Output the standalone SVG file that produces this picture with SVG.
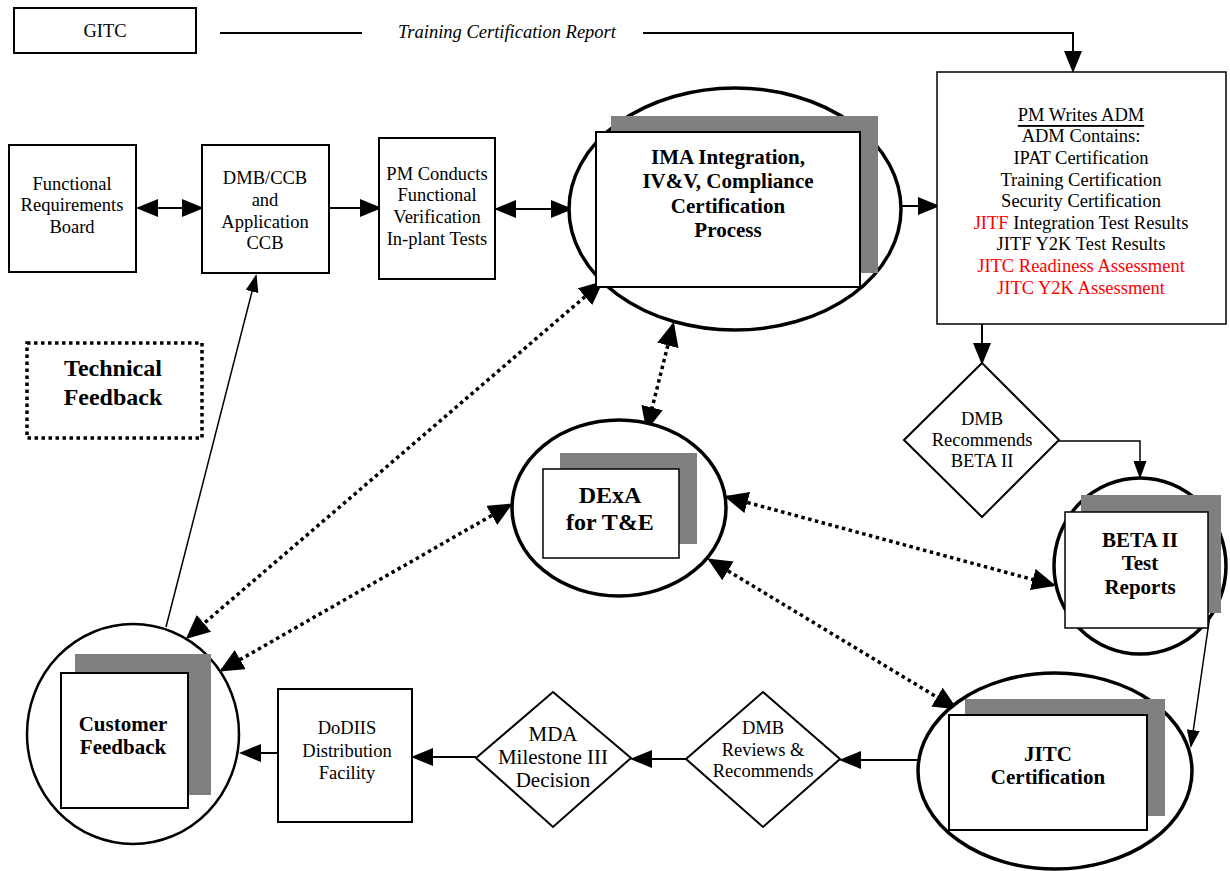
<svg xmlns="http://www.w3.org/2000/svg" width="1230" height="871" viewBox="0 0 1230 871">
<style>
text{font-family:"Liberation Serif","Times New Roman",serif;fill:#000;text-anchor:middle;dominant-baseline:central}
.t{font-size:18.5px}
.tm{font-size:21px}
.b{font-size:21px;font-weight:bold}
.bl{font-size:24px;font-weight:bold}
.red{fill:#ff0000}
.box{fill:#fff;stroke:#000;stroke-width:2}
.thin{fill:#fff;stroke:#000;stroke-width:1.5}
.shadow{fill:#808080;stroke:none}
.front{fill:#fff;stroke:#000;stroke-width:2}
.ell{fill:#fff;stroke:#000;stroke-width:3.5}
.conn{fill:none;stroke:#000;stroke-width:2}
.cthin{fill:none;stroke:#000;stroke-width:1.5}
.dot{fill:none;stroke:#000;stroke-width:3.5;stroke-dasharray:3.5 3.5}
</style>
<defs>
<marker id="ah" markerUnits="userSpaceOnUse" viewBox="0 0 22 18" markerWidth="22" markerHeight="18" refX="19" refY="9" orient="auto-start-reverse"><path d="M0,0 L22,9 L0,18 z" fill="#000"/></marker>
<marker id="ahd" markerUnits="userSpaceOnUse" viewBox="0 0 24 22" markerWidth="24" markerHeight="22" refX="21" refY="11" orient="auto-start-reverse"><path d="M0,0 L24,11 L0,22 z" fill="#000"/></marker>
<marker id="aht" markerUnits="userSpaceOnUse" viewBox="0 0 18 13" markerWidth="18" markerHeight="13" refX="16" refY="6.5" orient="auto-start-reverse"><path d="M0,0 L18,6.5 L0,13 z" fill="#000"/></marker>
</defs>
<rect width="1230" height="871" fill="#fff"/>

<g id="connectors">
<path class="conn" d="M220,33 H362 M643,33 H1073 V70" marker-end="url(#ah)"/>
<path class="conn" d="M139,208 L201,208" marker-start="url(#ah)" marker-end="url(#ah)"/>
<path class="conn" d="M329,208 L379,208" marker-end="url(#ah)"/>
<path class="conn" d="M497,209 L570,209" marker-start="url(#ah)" marker-end="url(#ah)"/>
<path class="conn" d="M901,206 L937,206" marker-end="url(#ah)"/>
<path class="conn" d="M982,324 V362" marker-end="url(#ah)"/>
<path class="cthin" d="M1059,441 H1140 V477" marker-end="url(#aht)"/>
<path class="cthin" d="M1210,615 L1191,746" marker-end="url(#aht)"/>
<path class="conn" d="M918,760 L842,760" marker-end="url(#ah)"/>
<path class="conn" d="M686,759 L633,759" marker-end="url(#ah)"/>
<path class="conn" d="M476,757 L414,757" marker-end="url(#ah)"/>
<path class="conn" d="M278,753 L242,753" marker-end="url(#ah)"/>
<path class="cthin" d="M166,627 L256,276" marker-end="url(#aht)"/>
<path class="dot" d="M601,283 L188,637" marker-start="url(#ahd)" marker-end="url(#ahd)"/>
<path class="dot" d="M510,505 L222,670" marker-start="url(#ahd)" marker-end="url(#ahd)"/>
<path class="dot" d="M673,325 L647,428" marker-start="url(#ahd)" marker-end="url(#ahd)"/>
<path class="dot" d="M727,497 L1053,585" marker-start="url(#ahd)" marker-end="url(#ahd)"/>
<path class="dot" d="M710,560 L955,708" marker-start="url(#ahd)" marker-end="url(#ahd)"/>
</g>

<g id="gitc">
<rect class="box" x="14" y="8" width="182" height="45"/>
<text class="t" x="105" y="31">GITC</text>
</g>
<g id="label-training">
<text class="t" x="507" y="32" font-style="italic">Training Certification Report</text>
</g>

<g id="functional-requirements-board">
<rect class="box" x="9" y="145" width="127" height="127"/>
<text class="t" x="72" y="184">Functional</text>
<text class="t" x="72" y="205">Requirements</text>
<text class="t" x="72" y="227">Board</text>
</g>

<g id="dmb-ccb">
<rect class="box" x="202" y="145" width="127" height="128"/>
<text class="t" x="265" y="178">DMB/CCB</text>
<text class="t" x="265" y="200">and</text>
<text class="t" x="265" y="222">Application</text>
<text class="t" x="265" y="243">CCB</text>
</g>

<g id="pm-conducts">
<rect class="box" x="379" y="138" width="116" height="141"/>
<text class="t" x="437" y="174">PM Conducts</text>
<text class="t" x="437" y="195">Functional</text>
<text class="t" x="437" y="217">Verification</text>
<text class="t" x="437" y="239">In-plant Tests</text>
</g>

<g id="ima">
<ellipse class="ell" cx="735" cy="209" rx="166" ry="121"/>
<rect class="shadow" x="611" y="116" width="267" height="157"/>
<rect class="front" x="596" y="132" width="264" height="155"/>
<text class="b" x="728" y="157">IMA Integration,</text>
<text class="b" x="728" y="181">IV&amp;V, Compliance</text>
<text class="b" x="728" y="206">Certification</text>
<text class="b" x="728" y="230">Process</text>
</g>

<g id="adm">
<rect class="thin" x="937" y="72" width="289" height="252"/>
<text class="t" x="1081" y="115" text-decoration="underline">PM Writes ADM</text>
<text class="t" x="1081" y="136">ADM Contains:</text>
<text class="t" x="1081" y="158">IPAT Certification</text>
<text class="t" x="1081" y="180">Training Certification</text>
<text class="t" x="1081" y="201">Security Certification</text>
<text class="t" x="1081" y="223"><tspan class="red">JITF</tspan> Integration Test Results</text>
<text class="t" x="1081" y="244">JITF Y2K Test Results</text>
<text class="t red" x="1081" y="266">JITC Readiness Assessment</text>
<text class="t red" x="1081" y="288">JITC Y2K Assessment</text>
</g>

<g id="dmb-recommends">
<polygon class="box" points="982,363 1059,440 982,517 904,440"/>
<text class="t" x="982" y="419">DMB</text>
<text class="t" x="982" y="440">Recommends</text>
<text class="t" x="982" y="461">BETA II</text>
</g>

<g id="technical-feedback">
<rect x="27" y="343" width="175" height="95" fill="none" stroke="#000" stroke-width="3.5" stroke-dasharray="3.5 3.5"/>
<text class="bl" x="113" y="368">Technical</text>
<text class="bl" x="113" y="397">Feedback</text>
</g>

<g id="dexa">
<ellipse class="ell" cx="619" cy="508" rx="107" ry="88"/>
<rect class="shadow" x="560" y="453" width="137" height="91"/>
<rect class="thin" x="543" y="469" width="136" height="89"/>
<text class="bl" x="610" y="495">DExA</text>
<text class="bl" x="610" y="522">for T&amp;E</text>
</g>

<g id="beta-ii">
<ellipse class="ell" cx="1140" cy="566" rx="86" ry="88" stroke-width="4"/>
<rect class="shadow" x="1081" y="495" width="140" height="118"/>
<rect class="thin" x="1065" y="512" width="143" height="116"/>
<text class="b" x="1140" y="540">BETA II</text>
<text class="b" x="1140" y="563">Test</text>
<text class="b" x="1140" y="587">Reports</text>
</g>

<g id="jitc">
<ellipse class="ell" cx="1055" cy="771" rx="137" ry="98"/>
<rect class="shadow" x="965" y="699" width="200" height="117"/>
<rect class="front" x="949" y="715" width="198" height="115"/>
<text class="b" x="1048" y="754">JITC</text>
<text class="b" x="1048" y="777">Certification</text>
</g>

<g id="dmb-reviews">
<polygon class="box" points="763,692 840,759 763,827 686,759"/>
<text class="t" x="763" y="728">DMB</text>
<text class="t" x="763" y="750">Reviews &amp;</text>
<text class="t" x="763" y="771">Recommends</text>
</g>

<g id="mda">
<polygon class="box" points="553,692 631,758 553,827 476,758"/>
<text class="tm" x="553" y="734">MDA</text>
<text class="tm" x="553" y="757">Milestone III</text>
<text class="tm" x="553" y="780">Decision</text>
</g>

<g id="dodiis">
<rect class="box" x="278" y="689" width="134" height="133"/>
<text class="t" x="347" y="728">DoDIIS</text>
<text class="t" x="347" y="751">Distribution</text>
<text class="t" x="347" y="773">Facility</text>
</g>

<g id="customer-feedback">
<ellipse cx="133" cy="734" rx="106" ry="110" fill="#fff" stroke="#000" stroke-width="2.5"/>
<rect class="shadow" x="75" y="654" width="136" height="141"/>
<rect class="front" x="61" y="673" width="127" height="135"/>
<text class="b" x="123" y="724">Customer</text>
<text class="b" x="123" y="747">Feedback</text>
</g>
</svg>
